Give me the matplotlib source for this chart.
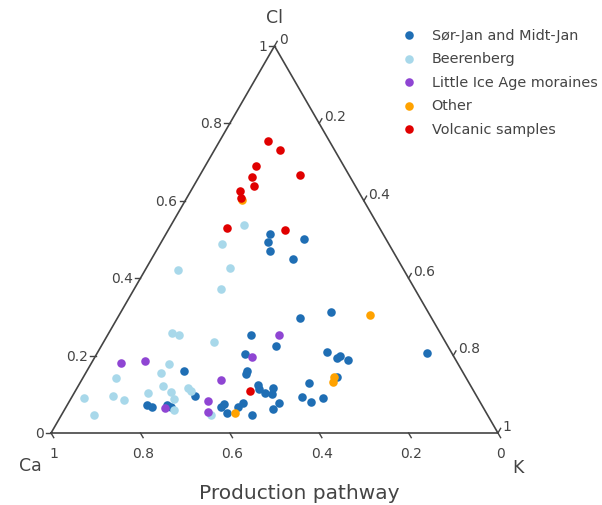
import numpy as np
import matplotlib.pyplot as plt

# Ternary compositions (fractions of Ca, Cl, K)
sor_ca = [0.253, 0.267, 0.275, 0.184, 0.233, 0.295, 0.217, 0.426, 0.384, 0.464,
          0.278, 0.263, 0.254, 0.241, 0.055, 0.623, 0.482, 0.488, 0.358, 0.288,
          0.475, 0.478, 0.445, 0.455, 0.470, 0.630, 0.392, 0.378, 0.347, 0.749,
          0.741, 0.705, 0.698, 0.575, 0.586, 0.548, 0.531, 0.451, 0.472, 0.580,
          0.527]
sor_cl = [0.514, 0.494, 0.470, 0.501, 0.450, 0.297, 0.313, 0.253, 0.225, 0.204,
          0.209, 0.194, 0.199, 0.189, 0.207, 0.160, 0.160, 0.152, 0.129, 0.145,
          0.124, 0.114, 0.116, 0.101, 0.103, 0.096, 0.093, 0.080, 0.090, 0.072,
          0.067, 0.072, 0.067, 0.075, 0.067, 0.067, 0.078, 0.078, 0.062, 0.052,
          0.047]
sor_k = [0.233, 0.239, 0.255, 0.315, 0.317, 0.408, 0.470, 0.321, 0.391, 0.332,
         0.513, 0.543, 0.547, 0.570, 0.738, 0.217, 0.358, 0.360, 0.513, 0.567,
         0.401, 0.408, 0.439, 0.444, 0.427, 0.274, 0.515, 0.542, 0.563, 0.179,
         0.192, 0.223, 0.235, 0.350, 0.347, 0.385, 0.391, 0.471, 0.466, 0.368,
         0.426]

beer_ca = [0.300, 0.374, 0.387, 0.505, 0.434, 0.600, 0.587, 0.518, 0.647, 0.676,
           0.784, 0.689, 0.636, 0.632, 0.679, 0.732, 0.681, 0.881, 0.813, 0.794,
           0.695, 0.618, 0.880]
beer_cl = [0.537, 0.488, 0.426, 0.421, 0.372, 0.258, 0.253, 0.235, 0.178, 0.155,
           0.142, 0.121, 0.116, 0.109, 0.106, 0.103, 0.088, 0.090, 0.096, 0.085,
           0.059, 0.047, 0.047]
beer_k = [0.163, 0.138, 0.187, 0.074, 0.194, 0.142, 0.160, 0.247, 0.175, 0.169,
          0.074, 0.190, 0.248, 0.259, 0.215, 0.165, 0.231, 0.029, 0.091, 0.121,
          0.245, 0.335, 0.073]

lia_ca = [0.753, 0.697, 0.364, 0.452, 0.551, 0.607, 0.622, 0.712]
lia_cl = [0.181, 0.186, 0.253, 0.196, 0.137, 0.083, 0.054, 0.065]
lia_k = [0.066, 0.117, 0.383, 0.352, 0.312, 0.310, 0.324, 0.223]

other_ca = [0.272, 0.134, 0.294, 0.303, 0.562]
other_cl = [0.602, 0.305, 0.145, 0.132, 0.052]
other_k = [0.126, 0.561, 0.561, 0.565, 0.386]

volc_ca = [0.137, 0.122, 0.196, 0.109, 0.220, 0.227, 0.265, 0.272, 0.341, 0.214, 0.500]
volc_cl = [0.755, 0.731, 0.690, 0.667, 0.661, 0.638, 0.625, 0.607, 0.530, 0.525, 0.109]
volc_k = [0.108, 0.147, 0.114, 0.224, 0.119, 0.135, 0.110, 0.121, 0.129, 0.261, 0.391]

groups = [
    ('Sør-Jan and Midt-Jan', sor_ca, sor_cl, sor_k, '#1f6eb4'),
    ('Beerenberg', beer_ca, beer_cl, beer_k, '#a8d8ea'),
    ('Little Ice Age moraines', lia_ca, lia_cl, lia_k, '#8f45d3'),
    ('Other', other_ca, other_cl, other_k, '#ffa200'),
    ('Volcanic samples', volc_ca, volc_cl, volc_k, '#e00000'),
]

ticks = [0, 0.2, 0.4, 0.6, 0.8, 1]
tick_labels = ['0', '0.2', '0.4', '0.6', '0.8', '1']

H = np.sqrt(3) / 2
AX_COL = '#444444'


def to_xy(ca, cl, k):
    ca, cl, k = np.asarray(ca), np.asarray(cl), np.asarray(k)
    s = ca + cl + k
    cl, k = cl / s, k / s
    return k + cl / 2, cl * H


fig = plt.figure(figsize=(6.02, 5.06), dpi=100)
ax = fig.add_axes([51 / 602, 72 / 506, 447 / 602, 387 / 506])
ax.set_xlim(0, 1)
ax.set_ylim(0, H)
ax.set_aspect('equal')
ax.axis('off')

# triangle
ax.plot([0, 1, 0.5, 0], [0, 0, H, 0], color=AX_COL, lw=1.2, clip_on=False, zorder=1)

L = 0.012
for t, lab in zip(ticks, tick_labels):
    # bottom axis: Ca (1 at left)
    x, y = 1 - t, 0
    ax.plot([x, x + 0.5 * L], [y, y - H * L], color=AX_COL, lw=1, clip_on=False)
    ax.text(x + 0.006, -0.045, lab, ha='center', va='center', fontsize=10,
            color=AX_COL)
    # left axis: Cl
    x, y = t / 2, t * H
    ax.plot([x, x - L], [y, y], color=AX_COL, lw=1, clip_on=False)
    ax.text(x - 0.017, y, lab, ha='right', va='center', fontsize=10, color=AX_COL)
    # right axis: K
    x, y = (1 + t) / 2, (1 - t) * H
    ax.plot([x, x + 0.5 * L], [y, y + H * L], color=AX_COL, lw=1, clip_on=False)
    ax.text(x + 0.01, y + 0.016, lab, ha='left', va='center', fontsize=10,
            color=AX_COL)

ax.text(0.5, 0.931, 'Cl', ha='center', va='center', fontsize=12.5, color=AX_COL)
ax.text(-0.047, -0.072, 'Ca', ha='center', va='center', fontsize=12.5, color=AX_COL)
ax.text(1.045, -0.076, 'K', ha='center', va='center', fontsize=12.5, color=AX_COL)
ax.text(0.555, -0.134, 'Production pathway', ha='center', va='center',
        fontsize=14.5, color=AX_COL)

for name, ca, cl, k, col in groups:
    x, y = to_xy(ca, cl, k)
    ax.scatter(x, y, s=38, color=col, label=name, linewidths=0, zorder=3,
               clip_on=False)

fig.legend(loc='upper left', bbox_to_anchor=(389 / 602, 1 - 23 / 506),
           frameon=False, fontsize=10.4, labelcolor=AX_COL, handletextpad=0.55,
           labelspacing=0.66, borderaxespad=0, scatterpoints=1)

fig.savefig('out.png', dpi=100)
